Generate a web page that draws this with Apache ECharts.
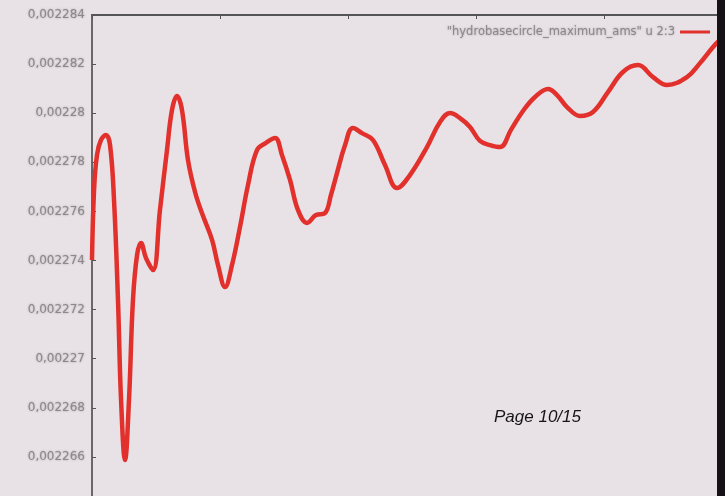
<!DOCTYPE html>
<html>
<head>
<meta charset="utf-8">
<script src="https://cdn.jsdelivr.net/npm/echarts@6/dist/echarts.min.js"></script>
<style>
  html, body { margin: 0; padding: 0; background: #e8e1e6; }
  #chart { width: 725px; height: 496px; }
</style>
</head>
<body>
<div id="chart"></div>
<script>
// x position (axis units) and value of each sampled point
const xValues = [
    0, 0.016, 0.039, 0.070, 0.109, 0.141, 0.172, 0.203, 0.227, 0.258,
    0.289, 0.320, 0.352, 0.383, 0.422, 0.477, 0.531, 0.586, 0.625, 0.664,
    0.703, 0.750, 0.805, 0.859, 0.938, 0.984, 1.039, 1.094, 1.156, 1.219,
    1.289, 1.359, 1.430, 1.484, 1.547, 1.609, 1.680, 1.750, 1.820, 1.867,
    1.914, 1.977, 2.039, 2.109, 2.195, 2.289, 2.383, 2.484, 2.617, 2.719,
    2.797, 2.875, 2.953, 3.031, 3.109, 3.188, 3.273, 3.367, 3.461, 3.563,
    3.633, 3.711, 3.813, 3.914, 4.031, 4.148, 4.266, 4.383, 4.492, 4.648,
    4.750, 4.852, 4.906
];
const yValues = [
    0.00227402, 0.00227687, 0.00227830, 0.00227891, 0.00227911, 0.00227870, 0.00227646, 0.00227239, 0.00226832, 0.00226587,
    0.00226832, 0.00227239, 0.00227422, 0.00227471, 0.00227410, 0.00227361, 0.00227606, 0.00227850, 0.00228013, 0.00228070,
    0.00228013, 0.00227809, 0.00227679, 0.00227593, 0.00227484, 0.00227382, 0.00227292, 0.00227382, 0.00227536, 0.00227708,
    0.00227850, 0.00227879, 0.00227899, 0.00227830, 0.00227728, 0.00227606, 0.00227553, 0.00227585, 0.00227593, 0.00227667,
    0.00227756, 0.00227870, 0.00227940, 0.00227919, 0.00227891, 0.00227789, 0.00227695, 0.00227748, 0.00227862, 0.00227964,
    0.00228001, 0.00227980, 0.00227944, 0.00227887, 0.00227870, 0.00227862, 0.00227932, 0.00228009, 0.00228066, 0.00228099,
    0.00228074, 0.00228025, 0.00227989, 0.00228005, 0.00228086, 0.00228168, 0.00228196, 0.00228147, 0.00228115, 0.00228147,
    0.00228204, 0.00228270, 0.00228298
];
const yMin = 0.002264;
const yMax = 0.002284;
const yStep = 0.000002;
const seriesName = '"hydrobasecircle_maximum_ams" u 2:3';
const pageLabel = 'Page 10/15';

const points = xValues.map((x, i) => [x, yValues[i]]);

const myChart = echarts.init(document.getElementById('chart'));
myChart.setOption({
    backgroundColor: '#e8e1e6',
    animation: false,
    grid: {
        left: 92,
        top: 15,
        width: 640,
        height: 491,
        outerBoundsMode: 'none'
    },
    legend: {
        right: 10,
        top: 21,
        align: 'right',
        itemWidth: 30,
        itemHeight: 3,
        itemGap: 4,
        icon: 'rect',
        textStyle: {
            fontFamily: 'DejaVu Sans',
            fontSize: 11.5,
            color: '#8d888c',
            textShadowColor: 'rgba(120,115,120,0.6)',
            textShadowBlur: 2
        },
        data: [seriesName]
    },
    xAxis: {
        type: 'value',
        position: 'top',
        min: 0,
        max: 5,
        interval: 1,
        axisLine: { show: true, lineStyle: { color: '#555', width: 2 } },
        axisTick: { show: true, inside: true, length: 4, lineStyle: { color: '#555' } },
        axisLabel: { show: false },
        splitLine: { show: false }
    },
    yAxis: {
        type: 'value',
        min: yMin,
        max: yMax,
        interval: yStep,
        axisLine: { show: true, lineStyle: { color: '#6a666a', width: 2 } },
        axisTick: { show: true, inside: true, length: 4, lineStyle: { color: '#555' } },
        axisLabel: {
            margin: 7,
            fontFamily: 'DejaVu Sans',
            fontSize: 12,
            color: '#8d888c',
            textShadowColor: 'rgba(120,115,120,0.6)',
            textShadowBlur: 2,
            formatter: (v) => String(parseFloat(v.toFixed(6))).replace('.', ',')
        },
        splitLine: { show: false }
    },
    series: [{
        name: seriesName,
        type: 'line',
        data: points,
        smooth: 0.4,
        showSymbol: false,
        clip: true,
        itemStyle: { color: '#e2312c' },
        lineStyle: { color: '#e2312c', width: 4.5 }
    }],
    graphic: [
        {
            type: 'rect',
            shape: { x: 717, y: 0, width: 8, height: 496 },
            style: { fill: '#141214' },
            z: 100
        },
        {
            type: 'text',
            left: 494,
            top: 409,
            style: {
                text: pageLabel,
                fontFamily: 'Liberation Sans',
                fontStyle: 'italic',
                fontSize: 17,
                fill: '#151515'
            },
            z: 100
        }
    ]
});
</script>
</body>
</html>
